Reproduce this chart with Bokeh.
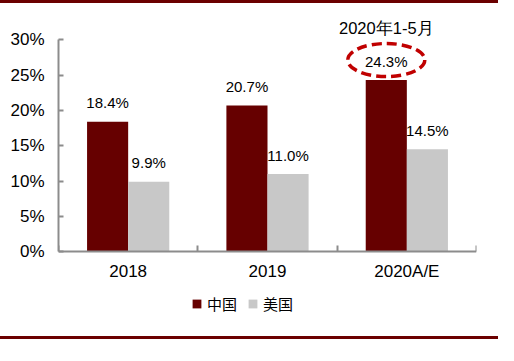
from bokeh.plotting import figure
from bokeh.models import (ColumnDataSource, FixedTicker, NumeralTickFormatter, Legend,
                          LegendItem, Range1d)
from bokeh.core.properties import value
from bokeh.embed import file_html
from bokeh.resources import INLINE

categories = ["2018", "2019", "2020A/E"]
china = [0.184, 0.207, 0.243]
usa = [0.099, 0.110, 0.145]
china_labels = ["18.4%", "20.7%", "24.3%"]
usa_labels = ["9.9%", "11.0%", "14.5%"]
series_names = ["中国", "美国"]
note_text = "2020年1-5月"
y_ticks = [0, 0.05, 0.10, 0.15, 0.20, 0.25, 0.30]

RED = "#660000"
GRAY = "#C8C8C8"
AXIS = "#8C8C8C"
FONT = "Liberation Sans"

W, H = 498, 339
ML, MR, MT, MB = 58, 22, 9, 27
axis_top = 0.30
top_px, zero_px = 36.2, 248.4          # canvas rows of the 30% and 0% ticks
px = axis_top / (zero_px - top_px)     # data units per pixel
ymax = axis_top + (top_px - MT) * px
ymin = -((H - MB) - zero_px) * px

n = len(categories)
centers = [i + 0.5 for i in range(n)]
bw = 0.295
cx = [c - bw / 2 for c in centers]
ux = [c + bw / 2 for c in centers]

src_c = ColumnDataSource(dict(x=cx, top=china, lab=china_labels))
src_u = ColumnDataSource(dict(x=ux, top=usa, lab=usa_labels))

p = figure(width=W, height=H, output_backend="svg", toolbar_location=None,
           x_range=Range1d(0, n), y_range=Range1d(ymin, ymax),
           min_border_left=ML, min_border_right=MR, min_border_top=MT, min_border_bottom=MB)
p.outline_line_color = None
p.grid.grid_line_color = None
p.background_fill_color = "white"
p.border_fill_color = "white"
p.styles = {"border-top": "3px solid #6B0000", "border-bottom": "3px solid #6B0000"}

r1 = p.vbar(x="x", top="top", width=bw, source=src_c, fill_color=RED, line_color=None)
r2 = p.vbar(x="x", top="top", width=bw, source=src_u, fill_color=GRAY, line_color=None)

for src in (src_c, src_u):
    p.text(x="x", y="top", text="lab", source=src, y_offset=-19,
           text_align="center", text_baseline="middle",
           text_font=value(FONT), text_font_size="15px", text_color="black")

# dashed ellipse around 2020 China value
p.ellipse(x=[cx[2]], y=[china[2] + 20 * px], width=77, height=33,
          width_units="screen", height_units="screen",
          fill_color=None, line_color="#C00000", line_width=3.5, line_dash="10 5")

p.text(x=[cx[2]], y=[axis_top], text=[note_text], y_offset=-11.5,
       text_align="center", text_baseline="middle",
       text_font=value(FONT), text_font_size="16.5px", text_color="black")

# axes
p.yaxis.bounds = (0, axis_top)
p.yaxis.ticker = FixedTicker(ticks=y_ticks)
p.yaxis.formatter = NumeralTickFormatter(format="0%")
p.xaxis.fixed_location = 0
p.xaxis.ticker = FixedTicker(ticks=centers, minor_ticks=list(range(n + 1)))
p.xaxis.major_label_overrides = {c: lab for c, lab in zip(centers, categories)}
for ax in (p.xaxis, p.yaxis):
    ax.axis_line_color = AXIS
    ax.axis_line_width = 2
    ax.major_label_text_font = FONT
    ax.major_label_text_font_size = "17px"
    ax.major_label_text_color = "black"
p.yaxis.major_tick_line_color = AXIS
p.yaxis.major_tick_line_width = 2
p.yaxis.major_tick_in = 5
p.yaxis.major_tick_out = 0
p.yaxis.minor_tick_line_color = None
p.yaxis.major_label_standoff = 14
p.xaxis.major_tick_line_color = None
p.xaxis.minor_tick_line_color = AXIS
p.xaxis.minor_tick_line_width = 2
p.xaxis.minor_tick_in = 6
p.xaxis.minor_tick_out = 0
p.xaxis.major_label_standoff = 4

legend = Legend(items=[LegendItem(label=series_names[0], renderers=[r1]),
                       LegendItem(label=series_names[1], renderers=[r2])],
                location=(133, 1), orientation="horizontal",
                glyph_width=11, glyph_height=11, label_standoff=5, spacing=10,
                label_height=14, padding=0, margin=0, border_line_color=None,
                background_fill_alpha=0,
                label_text_font="Noto Sans CJK SC", label_text_font_size="15px",
                label_text_color="black")
p.add_layout(legend, "center")

open("out.html", "w").write(file_html(p, INLINE))
